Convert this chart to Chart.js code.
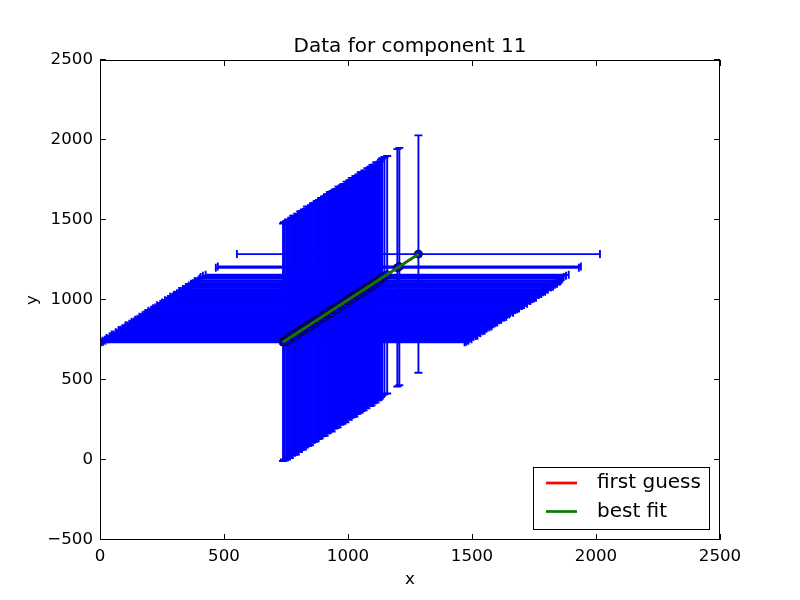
<!DOCTYPE html>
<html>
<head>
<meta charset="utf-8">
<script src="https://cdn.jsdelivr.net/npm/chart.js@4.4.1/dist/chart.umd.min.js"></script>
<style>
html,body{margin:0;padding:0;background:#ffffff;}
canvas{display:block;}
</style>
</head>
<body>
<canvas id="c" width="800" height="600"></canvas>
<script>
// ---- data ----
const xValues = [738, 742, 745, 751, 754, 758, 763, 766, 771, 774,
  779, 783, 786, 790, 795, 799, 802, 807, 811, 814,
  819, 822, 826, 831, 835, 838, 842, 847, 850, 854,
  859, 862, 867, 870, 874, 879, 883, 886, 891, 894,
  898, 903, 906, 910, 915, 918, 922, 927, 931, 934,
  938, 943, 946, 950, 955, 958, 962, 967, 970, 975,
  978, 982, 987, 990, 994, 999, 1003, 1006, 1010, 1015,
  1018, 1023, 1026, 1030, 1035, 1038, 1042, 1047, 1051, 1054,
  1058, 1063, 1066, 1071, 1074, 1078, 1083, 1087, 1090, 1095,
  1099, 1102, 1107, 1111, 1114, 1119, 1123, 1128, 1133,
  1138, 1147, 1158, 1199, 1207, 1284];
const yValues = [736, 745, 739, 752, 745, 762, 760, 754, 773, 769,
  785, 775, 785, 776, 798, 795, 792, 812, 804, 814,
  808, 824, 820, 828, 842, 829, 840, 834, 851, 849,
  863, 854, 866, 859, 877, 873, 883, 876, 896, 890,
  891, 905, 894, 909, 919, 909, 919, 933, 925, 920,
  939, 938, 949, 942, 953, 947, 967, 963, 963, 975,
  968, 984, 981, 977, 998, 996, 994, 1007, 1005, 1021,
  1010, 1021, 1014, 1033, 1031, 1031, 1042, 1037, 1056, 1048,
  1057, 1052, 1068, 1066, 1065, 1082, 1080, 1079, 1091, 1083,
  1102, 1096, 1105, 1101, 1119, 1115, 1116, 1124, 1135,
  1144, 1152, 1158, 1201, 1209, 1287];
const xError = 732;
const yError = 742;

const fitX = [738, 1284];
const firstGuessY = [737, 1287];
const bestFitY = [737, 1287];

const xTicks = [0, 500, 1000, 1500, 2000, 2500];
const yTicks = [-500, 0, 500, 1000, 1500, 2000, 2500];
const legendLabels = ['first guess', 'best fit'];
const chartTitle = 'Data for component 11';

// ---- helpers ----
const FONT = 'DejaVu Sans';
const fmt = v => (v < 0 ? '\u2212' + Math.abs(v) : String(v));

const errorBarPlugin = {
  id: 'errorBars',
  beforeDatasetsDraw(chart) {
    const {ctx, chartArea, scales} = chart;
    const xs = scales.x, ys = scales.y;
    const cap = 4;
    ctx.save();
    ctx.beginPath();
    ctx.rect(chartArea.left, chartArea.top, chartArea.right - chartArea.left, chartArea.bottom - chartArea.top);
    ctx.clip();
    ctx.strokeStyle = '#0000ff';
    ctx.lineWidth = 1.9;
    for (let i = 0; i < xValues.length; i++) {
      const py = ys.getPixelForValue(yValues[i]);
      const x0 = xs.getPixelForValue(xValues[i] - xError);
      const x1 = xs.getPixelForValue(xValues[i] + xError);
      ctx.beginPath();
      ctx.moveTo(x0, py); ctx.lineTo(x1, py);
      ctx.moveTo(x0, py - cap); ctx.lineTo(x0, py + cap);
      ctx.moveTo(x1, py - cap); ctx.lineTo(x1, py + cap);
      ctx.stroke();
    }
    for (let i = 0; i < xValues.length; i++) {
      const px = xs.getPixelForValue(xValues[i]);
      const y0 = ys.getPixelForValue(yValues[i] - yError);
      const y1 = ys.getPixelForValue(yValues[i] + yError);
      ctx.beginPath();
      ctx.moveTo(px, y0); ctx.lineTo(px, y1);
      ctx.moveTo(px - cap, y0); ctx.lineTo(px + cap, y0);
      ctx.moveTo(px - cap, y1); ctx.lineTo(px + cap, y1);
      ctx.stroke();
    }
    ctx.restore();
  }
};

const framePlugin = {
  id: 'frameTicks',
  afterDatasetsDraw(chart) {
    const {ctx, chartArea, scales} = chart;
    const L = chartArea.left, R = chartArea.right, T = chartArea.top, B = chartArea.bottom;
    const tl = 6;
    ctx.save();
    ctx.strokeStyle = '#000000';
    ctx.lineWidth = 1;
    ctx.strokeRect(Math.round(L) + 0.5, Math.round(T) + 0.5, Math.round(R - L) - 1, Math.round(B - T) - 1);
    ctx.beginPath();
    scales.x.ticks.forEach(t => {
      const p = Math.round(scales.x.getPixelForValue(t.value)) + 0.5;
      ctx.moveTo(p, B); ctx.lineTo(p, B - tl);
      ctx.moveTo(p, T); ctx.lineTo(p, T + tl);
    });
    scales.y.ticks.forEach(t => {
      const p = Math.round(scales.y.getPixelForValue(t.value)) - 0.5;
      ctx.moveTo(L, p); ctx.lineTo(L + tl, p);
      ctx.moveTo(R, p); ctx.lineTo(R - tl, p);
    });
    ctx.stroke();
    // title centred over the plot area
    ctx.fillStyle = '#000000';
    ctx.font = '20px "' + FONT + '"';
    ctx.textAlign = 'center';
    ctx.textBaseline = 'middle';
    ctx.fillText(chartTitle, (L + R) / 2, T - 13);
    ctx.restore();
  }
};

const legendPlugin = {
  id: 'boxLegend',
  afterDraw(chart) {
    const {ctx, chartArea} = chart;
    const items = legendLabels.map(l => chart.data.datasets.find(d => d.label === l));
    ctx.save();
    ctx.font = '20px "' + FONT + '"';
    const maxW = Math.max(...items.map(d => ctx.measureText(d.label).width));
    const padL = 13, lineLen = 31, gap = 20, padR = 9, rowH = 28.5, padT = 16, padB = 19;
    const w = padL + lineLen + gap + maxW + padR;
    const h = padT + rowH * (items.length - 1) + padB;
    const right = chartArea.right - 10, bottom = chartArea.bottom - 10;
    const left = Math.round(right - w), top = Math.round(bottom - h);
    ctx.fillStyle = '#ffffff';
    ctx.fillRect(left, top, right - left, bottom - top);
    ctx.strokeStyle = '#000000';
    ctx.lineWidth = 1;
    ctx.strokeRect(left + 0.5, top + 0.5, right - left - 1, bottom - top - 1);
    items.forEach((d, i) => {
      const cy = top + padT + rowH * i;
      ctx.strokeStyle = d.borderColor;
      ctx.lineWidth = d.borderWidth;
      ctx.beginPath();
      ctx.moveTo(left + padL, cy); ctx.lineTo(left + padL + lineLen, cy);
      ctx.stroke();
      ctx.fillStyle = '#000000';
      ctx.textBaseline = 'middle';
      ctx.textAlign = 'left';
      ctx.fillText(d.label, left + padL + lineLen + gap, cy);
    });
    ctx.restore();
  }
};

const pts = xValues.map((x, i) => ({x: x, y: yValues[i]}));
const line = ys => fitX.map((x, i) => ({x: x, y: ys[i]}));

new Chart(document.getElementById('c'), {
  type: 'scatter',
  data: {
    datasets: [
      {label: 'best fit', data: line(bestFitY), showLine: true, borderColor: '#008000',
       backgroundColor: '#008000', borderWidth: 2.7, pointRadius: 0, order: 0},
      {label: 'first guess', data: line(firstGuessY), showLine: true, borderColor: '#ff0000',
       backgroundColor: '#ff0000', borderWidth: 2.7, pointRadius: 0, order: 1},
      {label: 'data', data: pts, pointRadius: 4, backgroundColor: '#0000ff',
       borderColor: '#000000', borderWidth: 0.7, order: 2}
    ]
  },
  options: {
    responsive: false,
    animation: false,
    devicePixelRatio: 1,
    layout: {padding: {left: 0, right: 80, top: 60, bottom: 0}},
    plugins: {
      legend: {display: false},
      tooltip: {enabled: false},
      title: {display: false}
    },
    scales: {
      x: {
        type: 'linear', min: 0, max: 2500,
        afterBuildTicks: s => { s.ticks = xTicks.map(v => ({value: v})); },
        afterFit: s => { s.height = 60; },
        grid: {display: false, drawTicks: false},
        border: {display: false},
        ticks: {color: '#000000', font: {family: FONT, size: 16.67}, padding: 7,
                maxRotation: 0, callback: v => fmt(v)},
        title: {display: true, text: 'x', color: '#000000',
                font: {family: FONT, size: 16.67}, padding: {top: 0, bottom: 10}}
      },
      y: {
        type: 'linear', min: -500, max: 2500,
        afterBuildTicks: s => { s.ticks = yTicks.map(v => ({value: v})); },
        afterFit: s => { s.width = 100; },
        grid: {display: false, drawTicks: false},
        border: {display: false},
        ticks: {color: '#000000', font: {family: FONT, size: 16.67}, padding: 7,
                callback: v => fmt(v)},
        title: {display: true, text: 'y', color: '#000000',
                font: {family: FONT, size: 16.67}, padding: {top: 23, bottom: 0}}
      }
    }
  },
  plugins: [errorBarPlugin, framePlugin, legendPlugin]
});
</script>
</body>
</html>
